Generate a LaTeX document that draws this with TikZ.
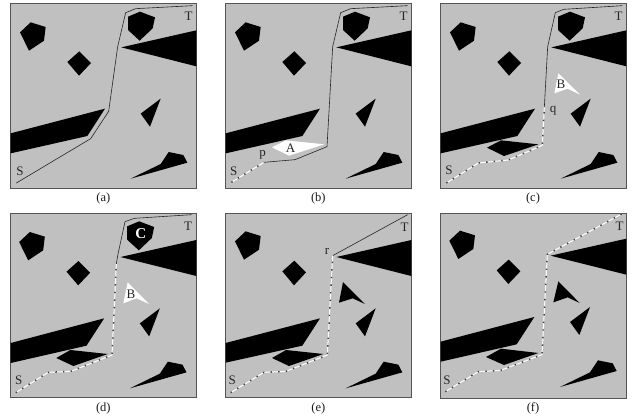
\documentclass[tikz,border=0pt]{standalone}
\usepackage{fontspec}
\setmainfont{Liberation Serif}
\definecolor{fieldgray}{HTML}{C0C0C0}
\definecolor{edgegray}{HTML}{555555}
\tikzset{
  field/.style={fill=fieldgray,draw=edgegray,line width=0.9pt},
  obst/.style={fill=black,draw=none},
  hole/.style={fill=white,draw=none},
  solidpath/.style={draw=black!85,line width=0.6pt,line join=round},
  whitepath/.style={draw=white,line width=1pt,line join=round},
  dotpath/.style={draw=black!75,line width=1.5pt,dash pattern=on 1.4pt off 6.2pt},
  lab/.style={font=\fontsize{13}{14}\selectfont,text=black!85,inner sep=0pt},
  captext/.style={font=\fontsize{12.5}{14}\selectfont,text=black!90,inner sep=0pt}
}
\begin{document}
\begin{tikzpicture}[x=0.33333pt,y=-0.33333pt]
\useasboundingbox (0,0) rectangle (1917,1257);
% ---------- (a)
\begin{scope}
  \draw[field] (31,10) rectangle (589,564);
  \fill[obst] (60,97)--(92,67)--(137,81)--(132,122)--(87,152)--cycle;
  \fill[obst] (238,154)--(273,189)--(237,227)--(202,186)--cycle;
  \fill[obst] (589,91)--(589,199)--(364,142)--cycle;
  \fill[obst] (32,400)--(315,326)--(262,408)--(32,460)--cycle;
  \fill[obst] (482,296)--(450,380)--(422,341)--cycle;
  \fill[obst] (392,536)--(482,492)--(506,456)--(550,465)--(562,488)--cycle;
  \fill[obst] (384,50)--(420,35)--(465,52)--(458,85)--(419,122)--(384,90)--cycle;
  \draw[solidpath] (49,549)--(272,416)--(326,334)--(353,140)--(377,38)--(407,26)--(578,17);
  \node[lab] (sa) at (60,515) {S};
  \node[lab] (ta) at (566,50) {T};
  \node[captext] (ca) at (310,595) {(a)};
\end{scope}
% ---------- (b)
\begin{scope}[shift={(645,0)}]
  \draw[field] (31,10) rectangle (589,564);
  \fill[obst] (60,97)--(92,67)--(137,81)--(132,122)--(87,152)--cycle;
  \fill[obst] (238,154)--(273,189)--(237,227)--(202,186)--cycle;
  \fill[obst] (589,91)--(589,199)--(364,142)--cycle;
  \fill[obst] (32,400)--(315,326)--(262,408)--(32,460)--cycle;
  \fill[obst] (482,296)--(450,380)--(422,341)--cycle;
  \fill[obst] (392,536)--(482,492)--(506,456)--(550,465)--(562,488)--cycle;
  \fill[obst] (384,50)--(420,35)--(465,52)--(458,85)--(419,122)--(384,90)--cycle;
  \fill[hole] (171,442)--(213,421)--(328,433)--(222,467)--cycle;
  \draw[solidpath] (147,487)--(240,479)--(336,440)--(353,140)--(377,38)--(407,26)--(578,17);
  \draw[whitepath] (49,547)--(147,487);
  \draw[dotpath] (49,547)--(147,487);
  \node[lab] (sb) at (56,513) {S};
  \node[lab] (tb) at (566,50) {T};
  \node[lab] (pb) at (143,463) {p};
  \node[lab] (ab) at (227,445) {A};
  \node[captext] (cb) at (310,595) {(b)};
\end{scope}
% ---------- (c)
\begin{scope}[shift={(1290,0)}]
  \draw[field] (31,10) rectangle (589,564);
  \fill[obst] (60,97)--(92,67)--(137,81)--(132,122)--(87,152)--cycle;
  \fill[obst] (238,154)--(273,189)--(237,227)--(202,186)--cycle;
  \fill[obst] (589,91)--(589,199)--(364,142)--cycle;
  \fill[obst] (32,400)--(315,326)--(262,408)--(32,460)--cycle;
  \fill[obst] (482,296)--(450,380)--(422,341)--cycle;
  \fill[obst] (392,536)--(482,492)--(506,456)--(550,465)--(562,488)--cycle;
  \fill[obst] (384,50)--(420,35)--(465,52)--(458,85)--(419,122)--(384,90)--cycle;
  \fill[obst] (171,443)--(213,421)--(325,433)--(222,468)--cycle;
  \fill[hole] (385,220)--(450,284)--(413,266)--(373,280)--cycle;
  \draw[solidpath] (343,322)--(353,140)--(376,38)--(401,28)--(577,17);
  \draw[whitepath] (49,549)--(145,489)--(235,480)--(337,436)--(343,322);
  \draw[dotpath] (49,549)--(145,489)--(235,480)--(337,436)--(343,322);
  \node[lab] (sc) at (57,512) {S};
  \node[lab] (tc) at (566,50) {T};
  \node[lab] (bc) at (393,254) {B};
  \node[lab] (qc) at (369,331) {q};
  \node[captext] (cc) at (309,595) {(c)};
\end{scope}
% ---------- (d)
\begin{scope}[shift={(0,627)}]
  \draw[field] (31,12) rectangle (589,565);
  \begin{scope}[shift={(-2.5,2)}]
  \fill[obst] (60,97)--(92,67)--(137,81)--(132,122)--(87,152)--cycle;
  \fill[obst] (238,154)--(273,189)--(237,227)--(202,186)--cycle;
  \fill[obst] (591.5,91)--(591.5,199)--(364,142)--cycle;
  \fill[obst] (34.5,400)--(315,326)--(262,408)--(34.5,460)--cycle;
  \fill[obst] (482,296)--(450,380)--(422,341)--cycle;
  \fill[obst] (392,536)--(482,492)--(506,456)--(550,465)--(562,488)--cycle;
  \fill[obst] (384,50)--(420,35)--(465,52)--(458,85)--(419,122)--(384,90)--cycle;
  \end{scope}
  \fill[obst] (169,447)--(211,423)--(323,435)--(220,471)--cycle;
  \fill[hole] (383,220)--(447,285)--(410,268)--(370,283)--cycle;
  \draw[solidpath] (349,165)--(353,140)--(375,38)--(403,28)--(575,17);
  \draw[whitepath] (47,551)--(145,490)--(213,487)--(336,438)--(349,165);
  \draw[dotpath] (47,551)--(145,490)--(213,487)--(336,438)--(349,165);
  \node[lab] (sd) at (56,515) {S};
  \node[lab] (td) at (564,52) {T};
  \node[lab] (bd) at (393,257) {B};
  \node[lab,text=white,font=\fontsize{15}{16}\selectfont\bfseries] (cnode) at (422,75) {C};
  \node[captext] (cd) at (310,598) {(d)};
\end{scope}
% ---------- (e)
\begin{scope}[shift={(645,627)}]
  \draw[field] (31,12) rectangle (589,566);
  \begin{scope}[shift={(0,2)}]
  \fill[obst] (60,95)--(92,65)--(137,79)--(132,120)--(87,150)--cycle;
  \fill[obst] (238,153)--(273,188)--(237,227)--(202,185)--cycle;
  \fill[obst] (589,91)--(589,199)--(364,142)--cycle;
  \fill[obst] (32,400)--(315,326)--(262,408)--(32,459)--cycle;
  \fill[obst] (482,296)--(450,380)--(422,341)--cycle;
  \fill[obst] (392,536)--(482,492)--(506,456)--(550,465)--(562,488)--cycle;
  \end{scope}
  \fill[obst] (171,447)--(213,423)--(325,435)--(222,471)--cycle;
  \fill[obst] (384,219)--(450,285)--(413,268)--(372,281)--cycle;
  \draw[solidpath] (353,140)--(578,17);
  \draw[whitepath] (47,551)--(147,490)--(213,487)--(337,438)--(353,140);
  \draw[dotpath] (47,551)--(147,490)--(213,487)--(337,438)--(353,140);
  \node[lab] (se) at (52,515) {S};
  \node[lab] (te) at (569,55) {T};
  \node[lab] (re) at (336,128) {r};
  \node[captext] (ce) at (310,598) {(e)};
\end{scope}
% ---------- (f)
\begin{scope}[shift={(1290,627)}]
  \draw[field] (31,12) rectangle (589,567);
  \begin{scope}[shift={(-2,-2)}]
  \fill[obst] (60,97)--(92,67)--(137,81)--(132,122)--(87,152)--cycle;
  \fill[obst] (238,154)--(273,189)--(237,227)--(202,186)--cycle;
  \fill[obst] (591,91)--(591,199)--(364,142)--cycle;
  \fill[obst] (34,400)--(315,326)--(262,408)--(34,460)--cycle;
  \fill[obst] (482,296)--(450,380)--(422,341)--cycle;
  \fill[obst] (392,536)--(482,492)--(506,456)--(550,465)--(562,488)--cycle;
  \end{scope}
  \fill[obst] (168,444)--(213,419)--(325,432)--(222,468)--cycle;
  \fill[obst] (385,217)--(449,282)--(413,265)--(370,280)--cycle;
  \draw[whitepath] (46,548)--(145,488)--(212,484)--(336,437)--(352,136)--(575,15);
  \draw[dotpath] (46,548)--(145,488)--(212,484)--(336,437)--(352,136)--(575,15);
  \node[lab] (sf) at (51,514) {S};
  \node[lab] (tf) at (569,52) {T};
  \node[captext] (cf) at (309,598) {(f)};
\end{scope}
\end{tikzpicture}
\end{document}
